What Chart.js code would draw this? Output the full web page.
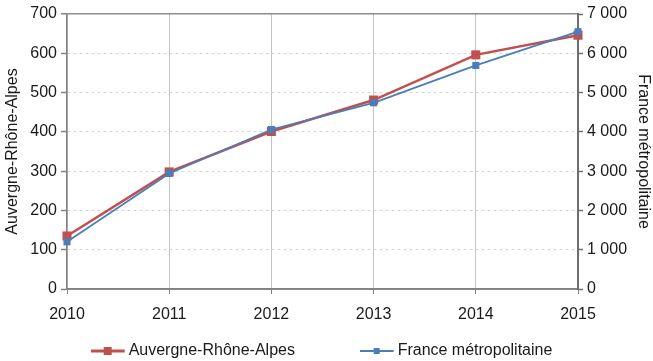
<!DOCTYPE html>
<html lang="fr">
<head>
<meta charset="utf-8">
<title>Auvergne-Rhône-Alpes / France métropolitaine</title>
<script src="https://cdn.jsdelivr.net/npm/chart.js@4/dist/chart.umd.min.js"></script>
<style>
  html, body { margin: 0; padding: 0; background: #fff; }
  canvas { display: block; }
</style>
</head>
<body>
<canvas id="chart" width="653" height="361"></canvas>
<script>
// Series data, 2010-2015
const years = ['2010', '2011', '2012', '2013', '2014', '2015'];
const auvergneValues = [135, 298, 401, 481, 596, 646];
const franceValues = [1200, 2940, 4060, 4740, 5690, 6550];

// Axis ranges
const leftAxisMax = 700;
const leftAxisStep = 100;
const rightAxisMax = 7000;
const rightAxisStep = 1000;

const seriesNames = ['Auvergne-Rhône-Alpes', 'France métropolitaine'];
const RED = '#c0504d';
const BLUE = '#4a7ebb';
const TEXT = '#1a1a1a';
const AXIS = '#828282';

const FONT = { family: "'Liberation Sans', Arial, sans-serif", size: 16 };

// Small line + square swatch used as the legend symbol
function legendMarker(color, lineWidth, size) {
  const c = document.createElement('canvas');
  c.width = 40;
  c.height = 12;
  const g = c.getContext('2d');
  g.strokeStyle = color;
  g.lineWidth = lineWidth;
  g.beginPath();
  g.moveTo(0, 6);
  g.lineTo(34, 6);
  g.stroke();
  g.fillStyle = color;
  g.fillRect(17 - size / 2, 6 - size / 2, size, size);
  return c;
}

const markers = [legendMarker(RED, 3, 8), legendMarker(BLUE, 2, 6)];

// French thousands separator: 7000 -> "7 000"
function frNumber(v) {
  return String(v).replace(/\B(?=(\d{3})+(?!\d))/g, ' ');
}

Chart.defaults.font = FONT;
Chart.defaults.color = TEXT;

new Chart(document.getElementById('chart'), {
  type: 'line',
  data: {
    labels: years,
    datasets: [
      {
        label: seriesNames[0],
        data: auvergneValues,
        yAxisID: 'yLeft',
        borderColor: RED,
        backgroundColor: RED,
        borderWidth: 2.5,
        pointStyle: 'rect',
        pointRadius: 6.4,
        pointBorderWidth: 0,
        pointBackgroundColor: RED,
        tension: 0,
        clip: false,
        order: 1
      },
      {
        label: seriesNames[1],
        data: franceValues,
        yAxisID: 'yRight',
        borderColor: BLUE,
        backgroundColor: BLUE,
        borderWidth: 1.8,
        pointStyle: 'rect',
        pointRadius: 5,
        pointBorderWidth: 0,
        pointBackgroundColor: BLUE,
        tension: 0,
        clip: false,
        order: 0
      }
    ]
  },
  options: {
    responsive: false,
    devicePixelRatio: 1,
    animation: false,
    layout: { padding: { top: 14, left: 0, right: 0, bottom: 0 } },
    plugins: {
      tooltip: { enabled: false },
      legend: {
        position: 'bottom',
        maxHeight: 26,
        labels: {
          usePointStyle: true,
          pointStyleWidth: 20,
          padding: 8,
          font: FONT,
          color: TEXT,
          generateLabels(chart) {
            const items = Chart.defaults.plugins.legend.labels.generateLabels(chart);
            items.sort((a, b) => a.datasetIndex - b.datasetIndex);
            items.forEach(item => {
              item.pointStyle = markers[item.datasetIndex];
              // extra room between the two entries
              if (item.datasetIndex === 0) item.text += ' '.repeat(15);
            });
            return items;
          }
        }
      }
    },
    scales: {
      x: {
        type: 'category',
        offset: false,
        afterFit(scale) { scale.height = 46; },
        grid: {
          color: '#c4c4c4',
          lineWidth: 1,
          tickLength: 5,
          tickColor: AXIS
        },
        border: { color: AXIS, width: 1.5 },
        ticks: { padding: 11, font: FONT, color: TEXT, maxRotation: 0 }
      },
      yLeft: {
        position: 'left',
        min: 0,
        max: leftAxisMax,
        afterFit(scale) { scale.width = 67; },
        ticks: { stepSize: leftAxisStep, padding: 4, font: FONT, color: TEXT },
        grid: {
          color: ctx => (ctx.tick && (ctx.tick.value === leftAxisMax || ctx.tick.value === 0)) ? '#8c8c8c' : '#d6d6d6',
          lineWidth: ctx => (ctx.tick && ctx.tick.value === leftAxisMax) ? 1.5 : 1,
          tickLength: 6,
          tickColor: AXIS,
          tickWidth: 1.5
        },
        border: {
          color: AXIS,
          width: 1.5,
          dash: ctx => (ctx.tick && ctx.tick.value !== leftAxisMax && ctx.tick.value !== 0) ? [3, 3] : []
        },
        title: {
          display: true,
          text: seriesNames[0],
          font: FONT,
          color: TEXT,
          padding: { top: 3, bottom: 0 }
        }
      },
      yRight: {
        position: 'right',
        min: 0,
        max: rightAxisMax,
        afterFit(scale) { scale.width = 75; },
        ticks: {
          stepSize: rightAxisStep,
          padding: 4,
          font: FONT,
          color: TEXT,
          callback: v => frNumber(v)
        },
        grid: {
          drawOnChartArea: false,
          tickLength: 5,
          tickColor: '#6e6e6e',
          tickWidth: 1.5
        },
        border: { color: '#6e6e6e', width: 2 },
        title: {
          display: true,
          text: seriesNames[1],
          font: FONT,
          color: TEXT,
          padding: { top: 0, bottom: 0 }
        }
      }
    }
  }
});
</script>
</body>
</html>
